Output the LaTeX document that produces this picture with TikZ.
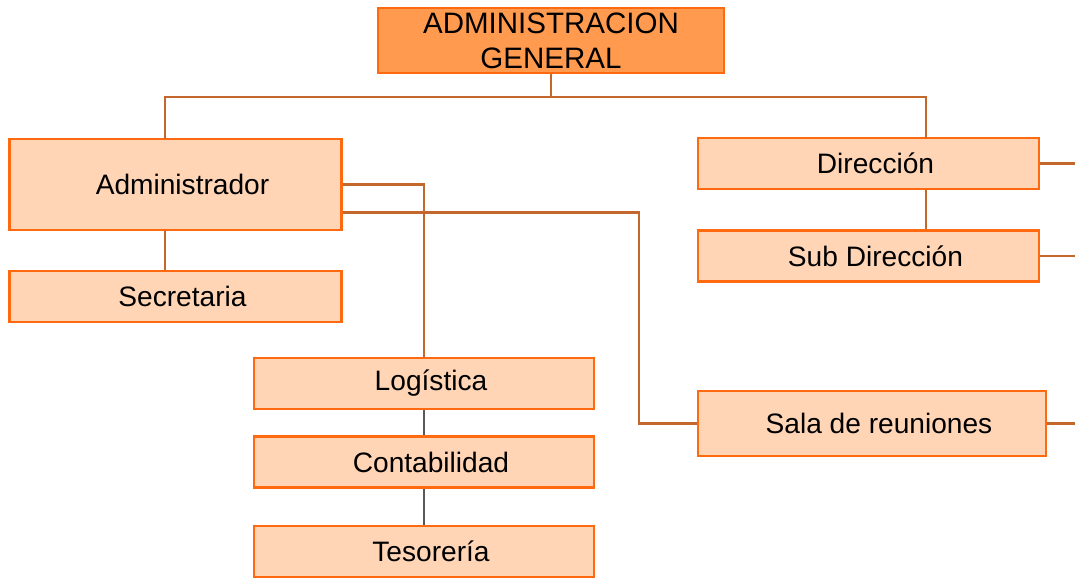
\documentclass[tikz,border=0pt]{standalone}
\usepackage{fontspec}
\setmainfont{Liberation Sans}
\usetikzlibrary{positioning}
\definecolor{boxline}{HTML}{FF6A10}
\definecolor{boxfill}{HTML}{FFD5B6}
\definecolor{topfill}{HTML}{FF9A4E}
\definecolor{wire}{HTML}{C4672C}
\tikzset{
    unit/.style={
    rectangle,draw=boxline,fill=boxfill,line width=2pt,minimum width=8.3cm,minimum height=1.275cm,inner sep=0pt,
    execute at begin node=\hspace*{0.35cm},font=\fontsize{20}{24}\selectfont
    },
    head/.style={
    rectangle,draw=boxline,fill=topfill,line width=2pt,minimum width=8.65cm,minimum height=1.625cm,inner sep=0pt,
    align=center,font=\fontsize{21}{25}\selectfont
    },
    link/.style={
    draw=wire,line width=1.6pt
    },
    grayline/.style={
    draw=black!65,line width=1pt
    },
}
\begin{document}
\begin{tikzpicture}
   \useasboundingbox (0,0) rectangle (26.875,-14.425);
   \node[head] (gen) at (13.775,-1.0125) {ADMINISTRACION\\GENERAL};
   \node[unit,minimum height=2.275cm] (adm) at (4.3875,-4.6125) {Administrador};
   \node[unit] (sec) at (4.3875,-7.4125) {Secretaria};
   \node[unit,minimum width=8.5cm] (log) at (10.6,-9.5875) {Logística};
   \node[unit,minimum width=8.5cm] (con) at (10.6,-11.55) {Contabilidad};
   \node[unit,minimum width=8.5cm] (tes) at (10.6,-13.7875) {Tesorería};
   \node[unit,minimum width=8.525cm] (dir) at (21.7125,-4.0875) {Dirección};
   \node[unit,minimum width=8.525cm] (sub) at (21.7125,-6.4) {Sub Dirección};
   \node[unit,minimum width=8.7cm,minimum height=1.625cm] (sala) at (21.8,-10.5875) {Sala de reuniones};

   \coordinate (bus) at (13.775,-2.425);
   \coordinate (admtop) at (4.125,-3.475);
   \coordinate (dirtop) at (23.15,-3.45);
   \coordinate (salaknee) at (15.975,-10.5875);
   \coordinate (dirout) at (26.875,-4.0875);
   \coordinate (subout) at (26.875,-6.4);
   \coordinate (salaout) at (26.875,-10.5875);

   \draw[link] (gen.south) -- (bus) -| (admtop);
   \draw[link] (bus) -| (dirtop);
   \draw[link] (admtop |- adm.south) -- (admtop |- sec.north);
   \draw[link] (adm.east) -| (log.north);
   \draw[link] ([yshift=0.475cm]adm.south east) -| (salaknee) -- (sala.west);
   \draw[link] (dirtop |- dir.south) -- (dirtop |- sub.north);
   \draw[link] (dir.east) -- (dirout);
   \draw[link] (sub.east) -- (subout);
   \draw[link] (sala.east) -- (salaout);
   \draw[grayline] (log.south) -- (con.north);
   \draw[grayline] (con.south) -- (tes.north);
\end{tikzpicture}
\end{document}
